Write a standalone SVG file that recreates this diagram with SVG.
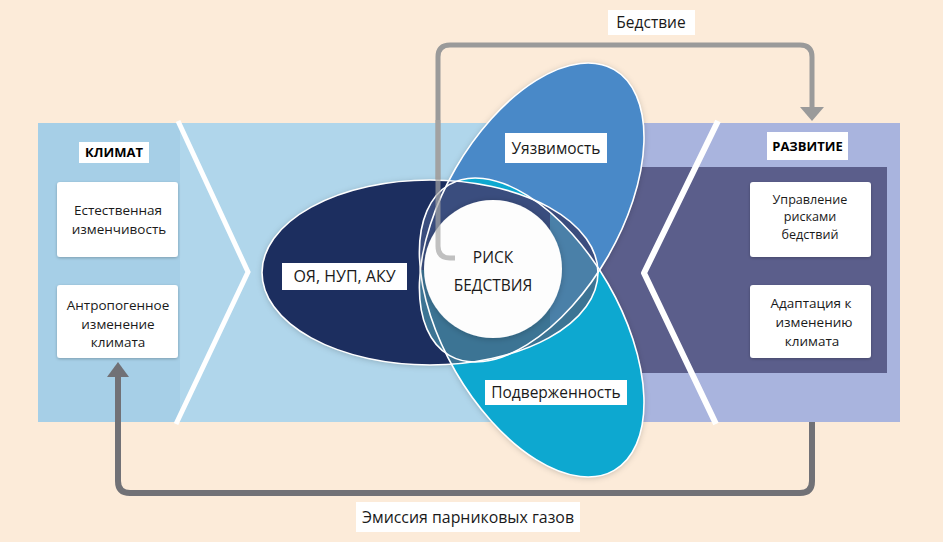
<svg xmlns="http://www.w3.org/2000/svg" xmlns:xlink="http://www.w3.org/1999/xlink" width="943" height="542" viewBox="0 0 943 542">
<style>
text{font-family:"Open Sans","Noto Sans","Liberation Sans",sans-serif;fill:#1a1a1a;text-anchor:middle}
.small{font-size:13.5px}
.tight{font-size:12.6px}
.head{font-size:13px;font-weight:bold;fill:#000}
.mid{font-size:15.5px}
.lblbox{fill:#fff}
.box{fill:#fff;filter:url(#bsh)}
.outline{fill:none;stroke:#fff;stroke-width:1.6}
</style>
<defs>
<filter id="bsh" x="-20%" y="-20%" width="140%" height="140%"><feDropShadow dx="0" dy="1" stdDeviation="1.5" flood-color="#000" flood-opacity="0.25"/></filter>
<filter id="esh" x="-20%" y="-20%" width="140%" height="140%"><feDropShadow dx="0" dy="1" stdDeviation="3" flood-color="#000" flood-opacity="0.22"/></filter>
<ellipse id="eN" cx="430" cy="272.5" rx="168" ry="92.5"/>
<ellipse id="eU" cx="0" cy="0" rx="165" ry="88" transform="translate(531.7 212.5) rotate(-60)"/>
<ellipse id="eC" cx="0" cy="0" rx="165" ry="88" transform="translate(531.7 327.5) rotate(60)"/>
<clipPath id="cN"><ellipse cx="430" cy="272.5" rx="168" ry="92.5"/></clipPath>
<clipPath id="cU"><ellipse cx="0" cy="0" rx="165" ry="88" transform="translate(531.7 212.5) rotate(-60)"/></clipPath>
<clipPath id="cLow"><rect x="0" y="270" width="943" height="272"/></clipPath>
<clipPath id="cUp"><rect x="0" y="0" width="943" height="270"/></clipPath>
<clipPath id="cRight"><rect x="550" y="0" width="393" height="542"/></clipPath>
<marker id="ahTop" viewBox="0 0 14 24" refX="0" refY="12" markerWidth="14" markerHeight="24" markerUnits="userSpaceOnUse" orient="auto"><path d="M0,0 L14,12 L0,24 Z" fill="#9a9a9a"/></marker>
<marker id="ahBot" viewBox="0 0 15 22" refX="0" refY="11" markerWidth="15" markerHeight="22" markerUnits="userSpaceOnUse" orient="auto"><path d="M0,0 L15,11 L0,22 Z" fill="#717176"/></marker>
</defs>

<rect x="0" y="0" width="943" height="542" fill="#fcebd9"/>

<g id="band">
<rect x="38" y="123" width="602" height="299" fill="#b0d6eb"/>
<rect x="38" y="123" width="142" height="299" fill="#a6cfe7"/>
<rect x="640" y="123" width="260" height="299" fill="#a9b4de"/>
<rect x="560" y="167" width="327" height="206" fill="#5b5e8b"/>
<polyline points="178,121 248,272 176,424" fill="none" stroke="#fff" stroke-width="5"/>
<polyline points="718,121 644,273 716,424" fill="none" stroke="#fff" stroke-width="6" stroke-linejoin="round"/>
</g>

<g id="connectors">
<path d="M455,258 H450 Q438,258 438,246 V57 Q438,45 450,45 H800 Q812,45 812,57 V107" fill="none" stroke="#9a9a9a" stroke-width="5" marker-end="url(#ahTop)"/>
<path d="M812,422 V481 Q812,493 800,493 H130 Q118,493 118,481 V377" fill="none" stroke="#717176" stroke-width="6" marker-end="url(#ahBot)"/>
<rect class="lblbox" x="608" y="10" width="87" height="25"/>
<text class="mid" x="651" y="28">Бедствие</text>
<rect class="lblbox" x="356" y="502" width="224" height="30"/>
<text x="468" y="523" font-size="16" textLength="212" lengthAdjust="spacingAndGlyphs">Эмиссия парниковых газов</text>
</g>

<g id="petals">
<g filter="url(#esh)">
<use xlink:href="#eN" href="#eN" fill="#1c2f5f"/>
<use xlink:href="#eU" href="#eU" fill="#4a89c8"/>
<use xlink:href="#eC" href="#eC" fill="#0ea8d0"/>
</g>
<g clip-path="url(#cN)">
<g clip-path="url(#cUp)" fill="#3a4d7e"><use xlink:href="#eU" href="#eU"/><use xlink:href="#eC" href="#eC"/></g>
<g clip-path="url(#cLow)" fill="#3c7494"><use xlink:href="#eU" href="#eU"/><use xlink:href="#eC" href="#eC"/></g>
</g>
<g clip-path="url(#cU)"><g clip-path="url(#cRight)"><use xlink:href="#eC" href="#eC" fill="#4a80a8"/></g></g>
<g class="outline">
<use xlink:href="#eN" href="#eN"/>
<use xlink:href="#eU" href="#eU"/>
<use xlink:href="#eC" href="#eC"/>
</g>
</g>

<g id="risk">
<circle cx="493" cy="269" r="69" fill="#fdfdfd" filter="url(#esh)"/>
<text class="mid" x="493" y="263" font-size="16">РИСК</text>
<text class="mid" x="493" y="291" font-size="16">БЕДСТВИЯ</text>
</g>

<path d="M455,258 H450 Q438,258 438,246 V120" fill="none" stroke="#a5a5a5" stroke-width="5" opacity="0.7"/>

<g id="hazards">
<rect class="lblbox" x="282" y="263" width="125" height="27"/>
<text x="344.5" y="282" font-size="16">ОЯ, НУП, АКУ</text>
</g>
<g id="vulnerability">
<rect class="lblbox" x="505" y="133" width="102" height="30"/>
<text class="mid" x="556" y="154">Уязвимость</text>
</g>
<g id="exposure">
<rect class="lblbox" x="485" y="380" width="142" height="25"/>
<text class="mid" x="556" y="398">Подверженность</text>
</g>

<g id="klimat">
<rect class="lblbox" x="79" y="142" width="70" height="21"/>
<text class="head" x="114" y="157">КЛИМАТ</text>
</g>
<g id="natural-variability">
<rect class="box" x="57" y="182" width="121" height="75" rx="3"/>
<text class="small" x="118" y="215">Естественная</text>
<text class="small" x="119" y="234">изменчивость</text>
</g>
<g id="anthropogenic">
<rect class="box" x="57" y="285" width="121" height="73" rx="3"/>
<text class="small" x="118" y="310">Антропогенное</text>
<text class="small" x="118" y="328.5">изменение</text>
<text class="small" x="118" y="347">климата</text>
</g>

<g id="razvitie">
<rect class="lblbox" x="767" y="132" width="81" height="28"/>
<text class="head" x="807.5" y="151">РАЗВИТИЕ</text>
</g>
<g id="drm">
<rect class="box" x="750" y="182" width="121" height="75" rx="3"/>
<text class="tight" x="810" y="204">Управление</text>
<text class="tight" x="810" y="221.3">рисками</text>
<text class="tight" x="810" y="238.6">бедствий</text>
</g>
<g id="cca">
<rect class="box" x="750" y="285" width="121" height="73" rx="3"/>
<text class="small" x="811" y="308">Адаптация к</text>
<text class="small" x="814" y="327">изменению</text>
<text class="small" x="812" y="345.5">климата</text>
</g>
</svg>
